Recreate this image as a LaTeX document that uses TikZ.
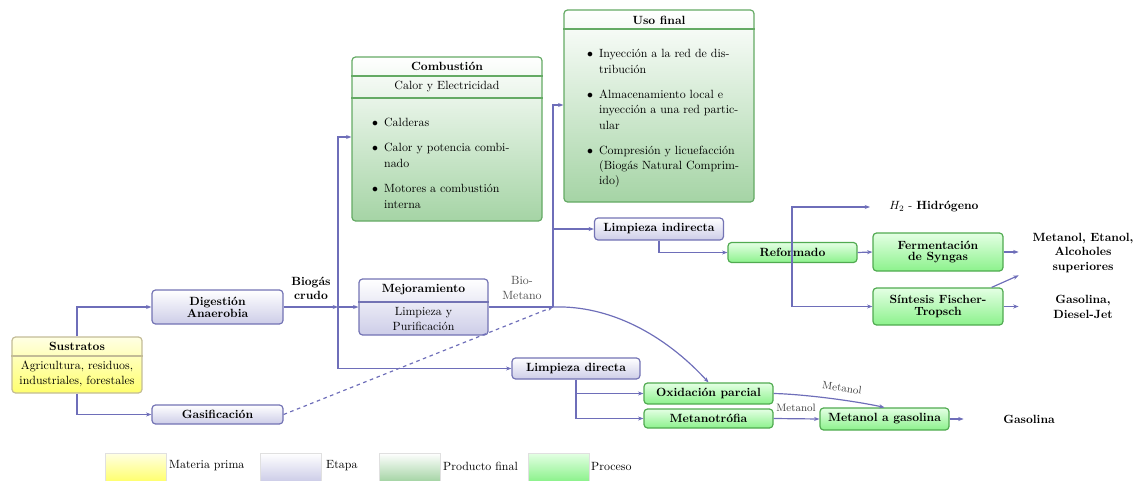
\documentclass[tikz,border=0pt]{standalone}
\usepackage{fontspec}
\usetikzlibrary{arrows.meta,calc}
\definecolor{linec}{RGB}{110,110,185}
\definecolor{etapab}{RGB}{205,205,232}
\definecolor{etapad}{RGB}{115,115,180}
\definecolor{prodb}{RGB}{165,212,165}
\definecolor{prodd}{RGB}{100,170,100}
\definecolor{procb}{RGB}{140,242,140}
\definecolor{proct}{RGB}{228,255,228}
\definecolor{procd}{RGB}{80,170,80}
\definecolor{matb}{RGB}{255,255,110}
\definecolor{matt}{RGB}{255,255,228}
\definecolor{matd}{RGB}{195,188,150}
\begin{document}
\begin{tikzpicture}[x=0.84pt,y=-0.84pt,
  wh/.style 2 args={minimum width=#1*0.84pt,minimum height=#2*0.84pt},
  etapa/.style={draw=etapad,line width=1pt,rounded corners=3pt,top color=white,bottom color=etapab,inner sep=1pt,align=center,font=\bfseries},
  prod/.style={draw=prodd,line width=1pt,rounded corners=3pt,top color=white,bottom color=prodb,inner sep=0pt},
  proc/.style={draw=procd,line width=1pt,rounded corners=3pt,top color=proct,bottom color=procb,inner sep=1pt,align=center,font=\bfseries},
  mat/.style={draw=matd,line width=1pt,rounded corners=3pt,top color=matt,bottom color=matb,inner sep=0pt},
  arr/.style={draw=linec,line width=1pt,-{Stealth[length=4.5pt,width=3.4pt]}},
  ln/.style={draw=linec,line width=1pt},
  lbl/.style={inner sep=0pt,align=center},
  outtxt/.style={inner sep=0pt,align=center,font=\bfseries},
  leg/.style={draw=black!12,line width=0.4pt}
]
\useasboundingbox (0,0) rectangle (1138,480);

% ---------- boxes ----------
\node[mat,wh={130}{56}] (sus) at (77,365) {};
\draw[matd,line width=1pt] (sus.west |- 0,356) -- (sus.east |- 0,356);
\node[lbl,font=\bfseries] (sust) at (77,346) {Sustratos};
\node[lbl] (susb) at (77,374) {Agricultura, residuos,\\industriales, forestales};

\node[etapa,wh={131}{34}] (dig) at (217.5,307) {Digestión\\[-2pt]Anaerobia};
\node[etapa,wh={131}{19}] (gas) at (217.5,414.5) {Gasificación};

\node[etapa,wh={129}{56},font=\normalfont] (mej) at (423.5,307) {};
\draw[etapad,line width=1pt] (mej.west |- 0,302) -- (mej.east |- 0,302);
\node[lbl,font=\bfseries] (mejt) at (423.5,290) {Mejoramiento};
\node[lbl] (mejb) at (423.5,319) {Limpieza y\\Purificación};

\node[prod,wh={190}{164}] (comb) at (447,139) {};
\draw[prodd,line width=1pt] (comb.west |- 0,76) -- (comb.east |- 0,76);
\draw[prodd,line width=1pt] (comb.west |- 0,98) -- (comb.east |- 0,98);
\node[lbl,font=\bfseries] (combt) at (447,66) {Combustión};
\node[lbl] (combs) at (447,87) {Calor y Electricidad};
\node[anchor=north west,inner sep=0pt] (combl) at (372,116) {%
\begin{tabular}{@{}l@{\hspace{5pt}}l@{}}
$\bullet$ & Calderas\\[9pt]
$\bullet$ & Calor y potencia combi-\\[1.5pt]
 & nado\\[9pt]
$\bullet$ & Motores a combustión\\[1.5pt]
 & interna
\end{tabular}};

\node[prod,wh={190}{192}] (uso) at (659,106) {};
\draw[prodd,line width=1pt] (uso.west |- 0,29) -- (uso.east |- 0,29);
\node[lbl,font=\bfseries] (usot) at (659,20) {Uso final};
\node[anchor=north west,inner sep=0pt] (usol) at (587,47) {%
\begin{tabular}{@{}l@{\hspace{5pt}}l@{}}
$\bullet$ & Inyección a la red de dis-\\[1.5pt]
 & tribución\\[9pt]
$\bullet$ & Almacenamiento local e\\[1pt]
 & inyección a una red partic-\\[1pt]
 & ular\\[9pt]
$\bullet$ & Compresión y licuefacción\\[1pt]
 & (Biogás Natural Comprim-\\[0.5pt]
 & ido)
\end{tabular}};

\node[etapa,wh={129}{22}] (lind) at (659,229) {Limpieza indirecta};
\node[proc,wh={129}{20}] (ref) at (792.5,252.5) {Reformado};
\node[proc,wh={130}{38}] (ferm) at (938,252) {Fermentación\\[-2pt]de Syngas};
\node[proc,wh={130}{37}] (sint) at (938,306.5) {Síntesis Fischer-\\[-2pt]Tropsch};

\node[etapa,wh={128}{21}] (ldir) at (576,368.5) {Limpieza directa};
\node[proc,wh={129}{21}] (oxi) at (708.5,393.5) {Oxidación parcial};
\node[proc,wh={129}{19}] (met) at (708.5,418.5) {Metanotrófia};
\node[proc,wh={129}{22}] (mag) at (884.5,419) {Metanol a gasolina};

% ---------- output texts ----------
\node[outtxt] (alc) at (1083,253) {Metanol, Etanol,\\Alcoholes\\superiores};
\node[outtxt] (gsd) at (1083,307) {Gasolina,\\Diesel-Jet};
\node[lbl,anchor=west] (h2) at (889,207) {$H_2$ - \textbf{Hidrógeno}};
\node[outtxt] (gsl) at (1029,419) {Gasolina};

% ---------- labels ----------
\node[outtxt] (bc) at (311,288) {Biogás\\crudo};
\node[lbl,text=black!70] (bm) at (522,288) {Bio-\\Metano};
\node[lbl,font=\small,rotate=-8,text=black!75] (m1) at (842,388) {Metanol};
\node[lbl,font=\small,text=black!75] (m2) at (796,408) {Metanol};

% ---------- junctions ----------
\coordinate (J1) at (338,307);
\coordinate (J2) at (553,307);
\coordinate (J3) at (792,252.5);
\coordinate (cin) at (comb.west |- 0,137);
\coordinate (uin) at (uso.west |- 0,105);
\coordinate (h2in) at (870,207);

% ---------- connectors ----------
\draw[arr] (sus.north) |- (dig.west);
\draw[arr] (sus.south) |- (gas.west);
\draw[arr] (dig.east) -- (J1);
\draw[arr] (J1) -- (mej.west);
\draw[arr] (J1) |- (cin);
\draw[arr] (J1) |- (ldir.west);
\draw[ln] (mej.east) -- (J2);
\draw[arr] (J2) |- (uin);
\draw[arr] (J2 |- lind.west) -- (lind.west);
\draw[arr] (J2) .. controls (610,305) and (665,335) .. (oxi.north);
\draw[arr,dashed] (gas.east) -- (J2);
\draw[arr] (lind.south) |- (ref.west);
\draw[arr] (ref.east) -- (ferm.west);
\draw[arr] (J3) |- (h2in);
\draw[arr] (J3) |- (sint.west);
\draw[arr] (ferm.east) -- ++(15,0);
\draw[arr] (sint.east) -- ++(15,0);
\draw[arr] ($(sint.north east)+(-12,0)$) -- ++(27,-12);
\draw[arr] (ldir.south) |- (oxi.west);
\draw[arr] (ldir.south) |- (met.west);
\draw[arr] (met.east) -- (mag.west);
\draw[arr] (oxi.east) .. controls (800,394) and (850,400) .. (mag.north);
\draw[arr] (mag.east) -- ++(14,0);

% ---------- legend ----------
\node[leg,top color=matt,bottom color=matb,wh={61}{28},inner sep=0pt] (lg1) at (135.5,467) {};
\node[lbl,anchor=west] (lt1) at (169,466) {Materia prima};
\node[leg,top color=white,bottom color=etapab,wh={61}{28},inner sep=0pt] (lg2) at (290.5,467) {};
\node[lbl,anchor=west] (lt2) at (326,466) {Etapa};
\node[leg,top color=white,bottom color=prodb,wh={61}{28},inner sep=0pt] (lg3) at (409.5,467) {};
\node[lbl,anchor=west] (lt3) at (443,466) {Producto final};
\node[leg,top color=proct,bottom color=procb,wh={61}{28},inner sep=0pt] (lg4) at (558.5,467) {};
\node[lbl,anchor=west] (lt4) at (591,466) {Proceso};
\end{tikzpicture}
\end{document}
